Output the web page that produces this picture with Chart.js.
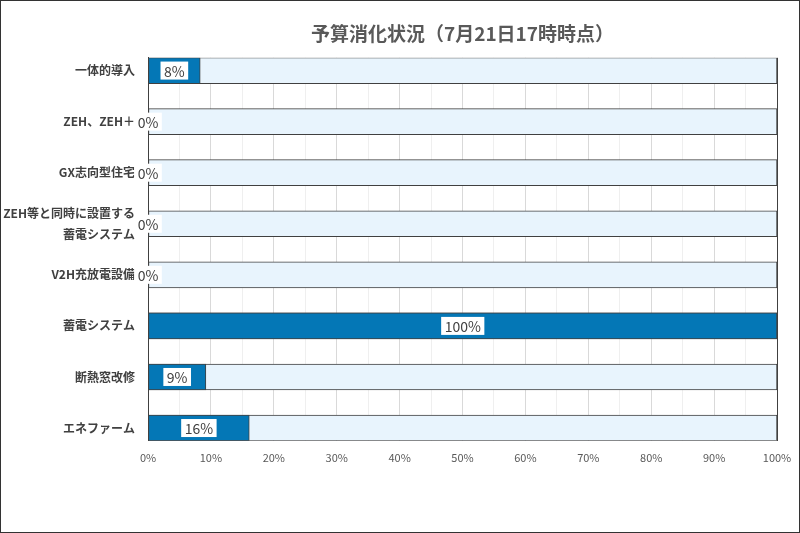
<!DOCTYPE html>
<html>
<head>
<meta charset="utf-8">
<script src="https://cdn.jsdelivr.net/npm/chart.js@4.4.1/dist/chart.umd.min.js"></script>
<style>
  html, body { margin: 0; padding: 0; background: #fff; }
</style>
</head>
<body>
<canvas id="chart" width="800" height="533"></canvas>
<script>
const titleText = "予算消化状況（7月21日17時時点）";
const categories = [
  "一体的導入",
  "ZEH、ZEH＋",
  "GX志向型住宅",
  ["ZEH等と同時に設置する", "蓄電システム"],
  "V2H充放電設備",
  "蓄電システム",
  "断熱窓改修",
  "エネファーム"
];
// 消化率（%）
const usedPercent = [8.3, 0, 0, 0, 0, 100, 9.2, 16.1];
const fullPercent = [100, 100, 100, 100, 100, 100, 100, 100];

const font = "'Noto Sans CJK JP', 'Noto Sans', sans-serif";

// white boxes with the value in the middle of each bar
const valueLabels = {
  id: "valueLabels",
  afterDraw(chart) {
    const ctx = chart.ctx;
    const meta = chart.getDatasetMeta(0);
    ctx.save();
    ctx.font = "14px " + font;
    ctx.textAlign = "center";
    ctx.textBaseline = "middle";
    meta.data.forEach((bar, i) => {
      const txt = Math.round(usedPercent[i]) + "%";
      const cx = (bar.x + bar.base) / 2;
      const w = ctx.measureText(txt).width + 7;
      ctx.fillStyle = "#fff";
      ctx.fillRect(cx - w / 2, bar.y - 9, w, 18);
      ctx.fillStyle = "#404040";
      ctx.fillText(txt, cx, bar.y + 1);
    });
    ctx.restore();
  }
};

const frame = {
  id: "frame",
  beforeDraw(chart) {
    const ctx = chart.ctx;
    ctx.save();
    ctx.fillStyle = "#fff";
    ctx.fillRect(0, 0, chart.width, chart.height);
    ctx.restore();
  },
  afterDraw(chart) {
    const ctx = chart.ctx;
    ctx.save();
    ctx.strokeStyle = "#333";
    ctx.lineWidth = 1;
    ctx.strokeRect(0.5, 0.5, chart.width - 1, chart.height - 1);
    ctx.restore();
  }
};

new Chart(document.getElementById("chart"), {
  type: "bar",
  data: {
    datasets: [
      {
        data: usedPercent.map((v, i) => ({ x: v, y: i })),
        backgroundColor: "#0477b6",
        borderColor: "#404040",
        borderWidth: 1,
        borderSkipped: false,
        barThickness: 26,
        grouped: false
      },
      {
        data: fullPercent.map((v, i) => ({ x: v, y: i })),
        backgroundColor: "#e8f4fd",
        borderColor: "#404040",
        borderWidth: 1,
        borderSkipped: false,
        barThickness: 26,
        grouped: false
      }
    ]
  },
  options: {
    indexAxis: "y",
    responsive: false,
    animation: false,
    layout: { padding: { left: 0, right: 23, top: 0, bottom: 59 } },
    plugins: {
      legend: { display: false },
      tooltip: { enabled: false },
      title: {
        display: true,
        text: titleText,
        fullSize: false,
        color: "#595959",
        font: { family: font, size: 19, weight: "bold" },
        padding: { top: 22, bottom: 13 }
      }
    },
    scales: {
      x: {
        type: "linear",
        min: 0,
        max: 100,
        afterFit: axis => { axis.paddingLeft = 0; axis.paddingRight = 0; },
        ticks: {
          stepSize: 5,
          autoSkip: false,
          maxRotation: 0,
          padding: 10,
          color: "#595959",
          font: { family: font, size: 11 },
          callback: v => (v % 10 === 0 ? v + "%" : "")
        },
        grid: {
          drawTicks: false,
          color: c => (c.tick.value === 100 ? "#404040" : c.tick.value % 10 === 0 ? "#d9d9d9" : "#efefef")
        },
        border: { display: false }
      },
      y: {
        type: "linear",
        reverse: true,
        offset: false,
        min: -0.25,
        max: 7.25,
        afterBuildTicks: axis => {
          axis.ticks = categories.map((c, i) => ({ value: i }));
        },
        afterFit: axis => { axis.width = 148; },
        ticks: {
          padding: 13,
          color: "#404040",
          font: { family: font, size: 12, weight: "bold", lineHeight: 1.8 },
          callback: v => categories[v]
        },
        grid: { display: false, drawTicks: false, offset: false },
        border: { display: true, color: "#404040", width: 1 }
      }
    }
  },
  plugins: [frame, valueLabels]
});
</script>
</body>
</html>
